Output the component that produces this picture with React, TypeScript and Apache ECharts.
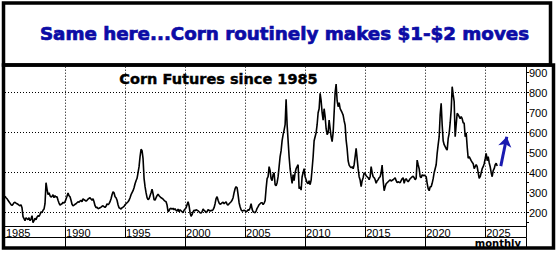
import React, { useEffect, useRef } from "react";
import * as echarts from "echarts";

const startYear = 1985;
// monthly closes (cents/bushel), Jan..Dec
const prices: number[][] = [
  [282, 275, 270, 262, 255, 248, 240, 236, 242, 250, 252, 248], // 1985
  [245, 242, 238, 235, 240, 225, 180, 170, 160, 175, 170, 165], // 1986
  [175, 160, 168, 185, 150, 160, 172, 165, 178, 185, 182, 192], // 1987
  [205, 200, 212, 218, 245, 350, 318, 290, 300, 285, 278, 282], // 1988
  [290, 275, 285, 278, 280, 262, 248, 238, 242, 245, 252, 248], // 1989
  [255, 268, 282, 298, 285, 280, 262, 242, 235, 238, 242, 245], // 1990
  [250, 255, 252, 258, 262, 255, 270, 265, 262, 258, 262, 268], // 1991
  [272, 275, 268, 262, 270, 255, 235, 225, 228, 220, 222, 225], // 1992
  [228, 232, 235, 230, 226, 232, 245, 240, 245, 255, 270, 290], // 1993
  [305, 300, 280, 275, 262, 240, 225, 222, 218, 225, 228, 232], // 1994
  [240, 245, 250, 255, 262, 275, 290, 300, 310, 325, 345, 360], // 1995
  [372, 400, 430, 480, 517, 510, 470, 372, 330, 300, 275, 265], // 1996
  [270, 285, 300, 317, 295, 265, 263, 275, 285, 293, 285, 280], // 1997
  [275, 272, 268, 262, 258, 255, 238, 205, 210, 220, 222, 218], // 1998
  [222, 215, 220, 212, 208, 218, 205, 215, 210, 205, 200, 212], // 1999
  [218, 225, 240, 255, 235, 200, 182, 190, 205, 212, 210, 215], // 2000
  [212, 210, 205, 200, 198, 205, 218, 212, 208, 200, 205, 215], // 2001
  [212, 208, 212, 210, 215, 225, 245, 270, 280, 262, 248, 242], // 2002
  [245, 250, 252, 245, 250, 255, 242, 238, 245, 250, 255, 262], // 2003
  [275, 300, 320, 330, 325, 290, 250, 230, 215, 208, 210, 212], // 2004
  [210, 205, 208, 215, 212, 225, 245, 218, 205, 202, 200, 208], // 2005
  [222, 230, 240, 245, 250, 250, 240, 248, 260, 320, 370, 380], // 2006
  [430, 410, 370, 360, 390, 400, 340, 335, 350, 380, 430, 480], // 2007
  [510, 560, 590, 613, 640, 767, 640, 560, 480, 420, 380, 347], // 2008
  [390, 360, 400, 420, 430, 440, 320, 330, 313, 380, 400, 420], // 2009
  [380, 365, 350, 345, 360, 340, 363, 420, 480, 560, 580, 600], // 2010
  [640, 700, 720, 797, 760, 700, 663, 720, 680, 620, 590, 600], // 2011
  [663, 620, 580, 555, 600, 700, 800, 843, 760, 730, 750, 720], // 2012
  [710, 700, 688, 660, 638, 563, 520, 460, 438, 430, 425, 430], // 2013
  [420, 440, 480, 522, 470, 420, 380, 363, 330, 360, 375, 400], // 2014
  [395, 385, 380, 375, 365, 380, 430, 400, 380, 375, 365, 347], // 2015
  [360, 365, 375, 380, 400, 438, 360, 310, 330, 345, 350, 355], // 2016
  [360, 365, 358, 362, 365, 370, 375, 360, 350, 355, 352, 350], // 2017
  [360, 370, 375, 347, 365, 370, 360, 355, 362, 370, 375, 380], // 2018
  [382, 375, 365, 372, 463, 440, 420, 380, 375, 390, 385, 388], // 2019
  [385, 380, 347, 320, 310, 330, 330, 347, 370, 400, 420, 440], // 2020
  [497, 540, 580, 690, 747, 640, 560, 540, 530, 520, 513, 570], // 2021
  [597, 650, 713, 830, 790, 755, 580, 640, 697, 690, 680, 670], // 2022
  [680, 670, 650, 647, 580, 600, 530, 472, 480, 470, 460, 452], // 2023
  [445, 420, 430, 440, 430, 400, 372, 380, 400, 420, 430, 445], // 2024
  [470, 497, 460, 480, 450, 430, 400, 380, 410, 420, 440, 447], // 2025
  [433], // 2026
];

const yearLabels = [1985, 1990, 1995, 2000, 2005, 2010, 2015, 2020, 2025];
const yearSeparators = [1990, 1995, 2000, 2005, 2010, 2015, 2020, 2025];
const decadeSeparators = [1990, 2000, 2010, 2020];
const priceLabels = [200, 300, 400, 500, 600, 700, 800, 900];
const priceTicks = [150, 200, 250, 300, 350, 400, 450, 500, 550, 600, 650, 700, 750, 800, 850, 900];
const hGrid = [200, 400, 600, 800];
const arrowFrom = [2026.3, 433];
const arrowTo = [2026.8, 580];

const X_MIN = 1985;
const X_MAX = 2028.4;
const Y_MIN = 130;
const Y_MAX = 928.5;

export default function App() {
  const ref = useRef<HTMLDivElement>(null);
  useEffect(() => {
    if (!ref.current) return;
    const chart = echarts.init(ref.current, null, { renderer: "svg" });
    const data: number[][] = [];
    prices.forEach((row, yi) => {
      row.forEach((v, m) => {
        data.push([startYear + yi + m / 12, v]);
      });
    });
    const dotted = { color: "#000", width: 1, type: [1, 2] as number[] };
    const gridLines = [
      ...yearSeparators.map((x) => ({ xAxis: x })),
      ...hGrid.map((y) => ({ yAxis: y })),
    ];
    const labelFont = { fontFamily: "Liberation Sans", fontSize: 11, color: "#000" };
    chart.setOption({
      animation: false,
      backgroundColor: "#fff",
      grid: { left: 5, right: 32, top: 67, bottom: 30.3, containLabel: false },
      xAxis: [
        {
          type: "value",
          min: X_MIN,
          max: X_MAX,
          position: "bottom",
          axisLine: { show: true, lineStyle: { color: "#000", width: 1 } },
          axisTick: {
            show: true,
            inside: false,
            length: 11,
            customValues: [...yearSeparators, X_MAX],
            lineStyle: { color: "#000", width: 1 },
          },
          axisLabel: {
            ...labelFont,
            customValues: yearLabels,
            formatter: (v: number) => String(Math.round(v)),
            align: "left",
            verticalAlign: "top",
            lineHeight: 10,
            margin: 1,
            padding: [0, 0, 0, 1],
            showMinLabel: true,
          },
          splitLine: { show: false },
        },
        {
          type: "value",
          min: X_MIN,
          max: X_MAX,
          position: "bottom",
          offset: 11,
          axisLine: { show: true, onZero: false, lineStyle: { color: "#000", width: 1 } },
          axisTick: {
            show: true,
            inside: false,
            length: 10,
            customValues: [...decadeSeparators, X_MAX],
            lineStyle: { color: "#000", width: 1 },
          },
          axisLabel: { show: false },
          splitLine: { show: false },
        },
      ],
      yAxis: {
        type: "value",
        min: Y_MIN,
        max: Y_MAX,
        position: "right",
        axisLine: { show: true, lineStyle: { color: "#000", width: 1 } },
        axisTick: {
          show: true,
          inside: false,
          length: 3,
          customValues: priceTicks,
          lineStyle: { color: "#000", width: 1 },
        },
        axisLabel: {
          ...labelFont,
          customValues: priceLabels,
          margin: 3,
          align: "left",
        },
        splitLine: { show: false },
      },
      series: [
        {
          type: "line",
          data: [],
          silent: true,
          z: 1,
          markLine: {
            silent: true,
            symbol: ["none", "none"],
            label: { show: false },
            lineStyle: dotted,
            data: gridLines,
          },
        },
        {
          type: "line",
          data,
          showSymbol: false,
          symbol: "none",
          z: 3,
          lineStyle: { color: "#000", width: 1.6 },
          markLine: {
            silent: true,
            symbol: ["none", "arrow"],
            symbolSize: 10,
            label: { show: false },
            lineStyle: { color: "#1a1ab0", width: 3, type: "solid" },
            data: [[{ coord: arrowFrom }, { coord: arrowTo }]],
          },
        },
      ],
      graphic: [
        {
          type: "text",
          style: {
            text: "Same here...Corn routinely makes $1-$2 moves",
            x: 284.5,
            y: 33,
            align: "center",
            verticalAlign: "middle",
            fill: "#0c0ca6",
            stroke: "#0c0ca6",
            lineWidth: 0.7,
            font: "bold 18.3px 'DejaVu Sans'",
          },
          z: 20,
        },
        {
          type: "text",
          style: {
            text: "Corn Futures since 1985",
            x: 218.5,
            y: 79,
            align: "center",
            verticalAlign: "middle",
            fill: "#000",
            stroke: "#000",
            lineWidth: 0.4,
            font: "bold 14.5px 'DejaVu Sans'",
          },
          z: 20,
        },
        {
          type: "text",
          style: {
            text: "monthly",
            x: 521,
            y: 243.5,
            align: "right",
            verticalAlign: "middle",
            fill: "#000",
            font: "bold 10px 'DejaVu Sans'",
          },
          z: 20,
        },
        {
          type: "rect",
          shape: { x: 3.5, y: 3, width: 547, height: 62 },
          style: { fill: "none", stroke: "#000", lineWidth: 3.5 },
          z: 30,
        },
        {
          type: "rect",
          shape: { x: 3.5, y: 65, width: 550, height: 183 },
          style: { fill: "none", stroke: "#000", lineWidth: 3.5 },
          z: 30,
        },
      ],
    });
    return () => chart.dispose();
  }, []);
  return (
    <div
      ref={ref}
      style={{ position: "fixed", left: 0, top: 0, width: 558, height: 257, background: "#fff" }}
    />
  );
}
